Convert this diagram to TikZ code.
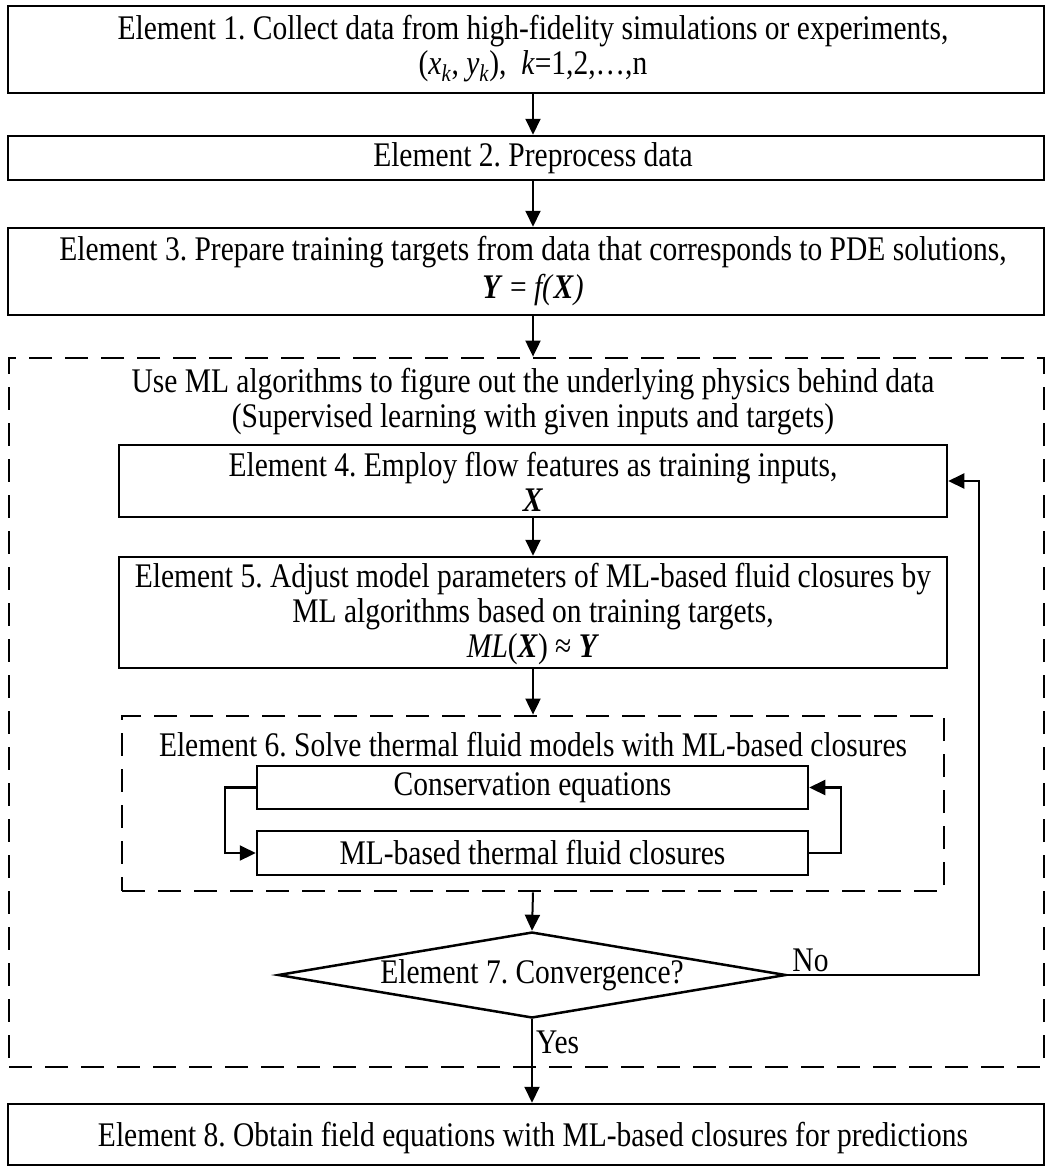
\documentclass[tikz,border=0pt]{standalone}
\usepackage{fontspec}
\setmainfont{Liberation Serif}
\usetikzlibrary{arrows.meta,shapes.geometric}
% each printed line is set slightly taller than the font's natural shape
\newcommand\txtline[1]{\scalebox{1}[1.17]{#1}}
\frenchspacing
\begin{document}
\begin{tikzpicture}[x=1pt,y=-1pt,
  box/.style={draw, line width=2.5pt, inner sep=0pt},
  dashbox/.style={draw, line width=2.8pt, dash pattern=on 23pt off 13pt, inner sep=0pt},
  lbl/.style={inner sep=0pt, align=center, font=\fontsize{29.5}{35}\selectfont},
  arr/.style={line width=2pt, -{Triangle[length=16pt,width=15pt]}},
  loop/.style={line width=2.2pt}]
\useasboundingbox (0,0) rectangle (1047,1168);
\coordinate (axis) at (533,0);

% top-level steps
\node[box, minimum width=1036pt, minimum height=87pt] (b1) at (526,49.5) {};
\node[lbl] (t1) at (533,49) {\txtline{Element 1. Collect data from high-fidelity simulations or experiments,}\\
  \txtline{(\textit{x}\textsubscript{\textit{k}}, \textit{y}\textsubscript{\textit{k}}),\ \ \textit{k}=1,2,…,n}};
\node[box, minimum width=1036pt, minimum height=44pt] (b2) at (526,158) {};
\node[lbl] (t2) at (533,158) {\txtline{Element 2. Preprocess data}};
\node[box, minimum width=1036pt, minimum height=87pt] (b3) at (526,271.5) {};
\node[lbl] (t3) at (533,271) {\txtline{Element 3. Prepare training targets from data that corresponds to PDE solutions,}\\[3pt]
  \txtline{\textbf{\textit{Y}} = \textit{f(}\textbf{\textit{X}}\textit{)}}};

% machine-learning stage
\node[dashbox, minimum width=1035pt, minimum height=709pt] (ml) at (526.5,712.5) {};
\node[lbl] (tml) at (533,402) {\txtline{Use ML algorithms to figure out the underlying physics behind data}\\
  \txtline{(Supervised learning with given inputs and targets)}};
\node[box, minimum width=828pt, minimum height=72pt] (b4) at (533,481) {};
\node[lbl] (t4) at (533,482) {\txtline{Element 4. Employ flow features as training inputs,}\\
  \txtline{\textbf{\textit{X}}}};
\node[box, minimum width=828pt, minimum height=111pt] (b5) at (533,612.5) {};
\node[lbl] (t5) at (533,614) {\txtline{Element 5. Adjust model parameters of ML-based fluid closures by}\\
  \txtline{ML algorithms based on training targets,}\\
  \txtline{\textit{ML}(\textbf{\textit{X}}) ≈ \textbf{\textit{Y}}}};

% solver stage
\node[dashbox, minimum width=822pt, minimum height=175pt] (b6) at (533,803.5) {};
\node[lbl] (t6) at (533,745) {\txtline{Element 6. Solve thermal fluid models with ML-based closures}};
\node[box, minimum width=551pt, minimum height=43pt] (cons) at (532.5,787.5) {};
\node[lbl] (tcons) at (532.5,787.5) {\txtline{Conservation equations}};
\node[box, minimum width=551pt, minimum height=44pt] (clos) at (532.5,853) {};
\node[lbl] (tclos) at (532.5,853) {\txtline{ML-based thermal fluid closures}};

% convergence check
\node[draw, diamond, shape aspect=5.9, minimum width=508pt, minimum height=86pt,
  inner sep=0pt, line width=2.5pt] (conv) at (532,975) {};
\node[lbl] (t7) at (532,975) {\txtline{Element 7. Convergence?}};

% final step
\node[box, minimum width=1036pt, minimum height=61pt] (b8) at (526,1134.5) {};
\node[lbl] (t8) at (533,1138) {\txtline{Element 8. Obtain field equations with ML-based closures for predictions}};

% main flow
\draw[arr] (b1.south -| axis) -- (b2.north -| axis);
\draw[arr] (b2.south -| axis) -- (b3.north -| axis);
\draw[arr] (b3.south -| axis) -- (ml.north -| axis);
\draw[arr] (b4.south -| axis) -- (b5.north -| axis);
\draw[arr] (b5.south -| axis) -- (b6.north -| axis);
\draw[arr] (b6.south -| axis) -- (conv.north);
\draw[arr] (conv.south) -- (b8.north -| conv.south);

% coupling between equations and closures
\coordinate (lc) at (225,0);
\coordinate (rc) at (841,0);
\draw[loop, -{Triangle[length=16pt,width=15pt]}] (cons.west) -- (cons.west -| lc) -- (clos.west -| lc) -- (clos.west);
\draw[loop, -{Triangle[length=16pt,width=15pt]}] (clos.east) -- (clos.east -| rc) -- (cons.east -| rc) -- (cons.east);

% iteration back to the inputs
\coordinate (fb) at (979,0);
\draw[arr] (conv.east) -- (conv.east -| fb) -- (b4.east -| fb) -- (b4.east);

\node[lbl, anchor=south west] (no) at ([xshift=5pt,yshift=3pt]conv.east) {\txtline{No}};
\node[lbl, anchor=west] (yes) at (536,1042) {\txtline{Yes}};
\end{tikzpicture}
\end{document}
